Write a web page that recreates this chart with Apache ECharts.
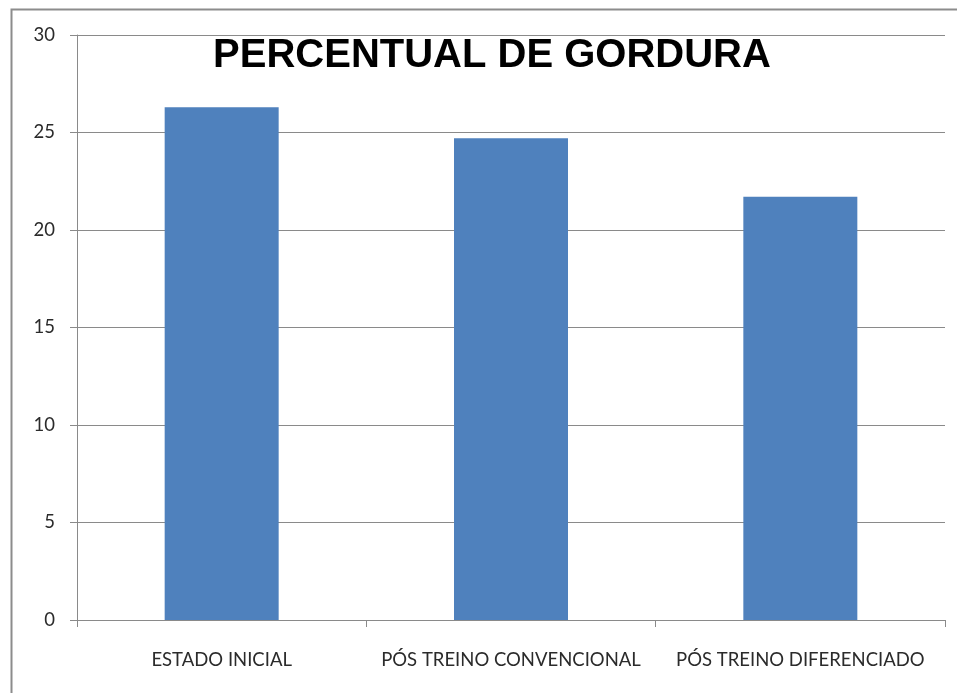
<!DOCTYPE html>
<html>
<head>
<meta charset="utf-8">
<script src="https://cdn.jsdelivr.net/npm/echarts@6/dist/echarts.min.js"></script>
<style>
html,body{margin:0;padding:0;background:#fff;}
#chart{width:957px;height:693px;}
</style>
</head>
<body>
<div id="chart"></div>
<script>
const categories = ['ESTADO INICIAL', 'PÓS TREINO CONVENCIONAL', 'PÓS TREINO DIFERENCIADO'];
const values = [26.3, 24.7, 21.7];
const titleText = 'PERCENTUAL DE GORDURA';

const chart = echarts.init(document.getElementById('chart'));
chart.setOption({
  animation: false,
  backgroundColor: '#ffffff',
  graphic: [{
    type: 'rect',
    left: 9, top: 7,
    shape: { width: 960, height: 700 },
    style: { fill: 'none', stroke: '#8c8c8c', lineWidth: 2 },
    silent: true
  }],
  title: {
    text: titleText,
    left: 487, top: 31,
    textAlign: 'center',
    textStyle: { fontFamily: 'Liberation Sans', fontWeight: 'bold', fontSize: 40, color: '#000' }
  },
  grid: { left: 77, right: 12, top: 35, bottom: 73 },
  xAxis: {
    type: 'category',
    data: categories,
    axisLine: { lineStyle: { color: '#8a8a8a', width: 1 } },
    axisTick: { show: true, alignWithLabel: false, length: 7, lineStyle: { color: '#8a8a8a' } },
    axisLabel: { interval: 0, margin: 31, fontFamily: 'Lato', fontSize: 18.5, color: '#2b2b2b' }
  },
  yAxis: {
    type: 'value',
    min: 0, max: 30, interval: 5,
    axisLine: { show: true, lineStyle: { color: '#8a8a8a', width: 1 } },
    axisTick: { show: true, length: 7, lineStyle: { color: '#8a8a8a' } },
    splitLine: { lineStyle: { color: '#8a8a8a', width: 1 } },
    axisLabel: { margin: 22, fontFamily: 'Lato', fontSize: 18.5, color: '#2b2b2b' }
  },
  series: [{
    type: 'bar',
    data: values,
    barWidth: '39.4%',
    itemStyle: { color: '#4f81bd' }
  }]
});
</script>
</body>
</html>
